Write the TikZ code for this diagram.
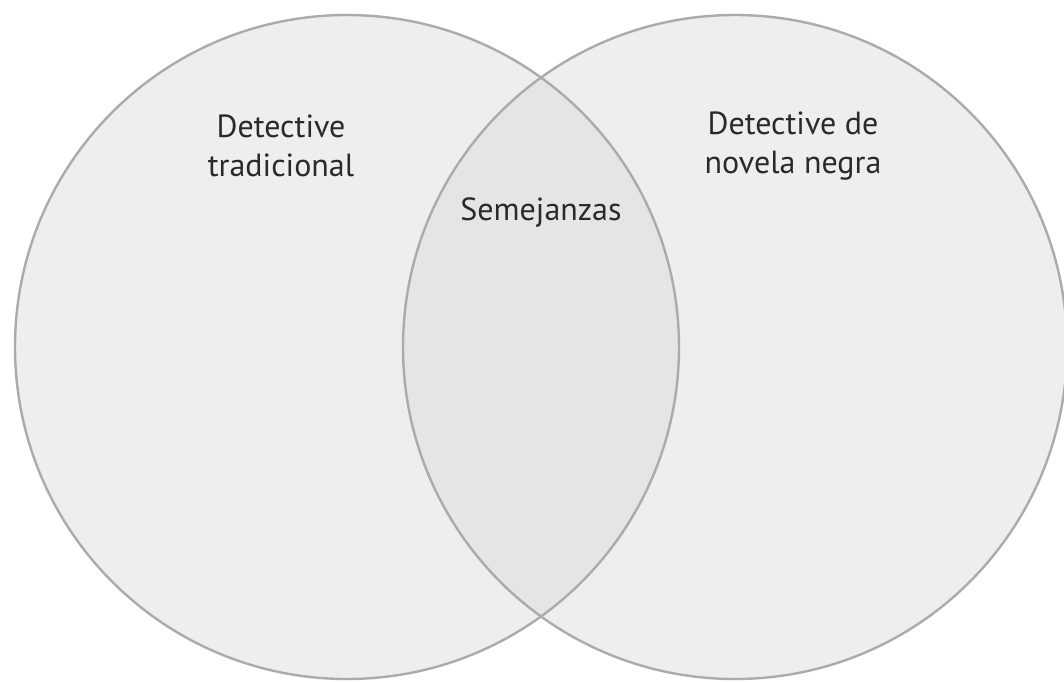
\documentclass[tikz,border=0pt]{standalone}
\usepackage{fontspec}
\setmainfont{PT Sans}
\definecolor{ring}{HTML}{ABABAB}
\definecolor{setfill}{HTML}{EEEEEE}
\definecolor{lensfill}{HTML}{E5E5E5}
\definecolor{txt}{HTML}{2A2A2A}
\begin{document}
\begin{tikzpicture}[x=1pt,y=-1pt,
  setc/.style={circle,minimum size=664pt,inner sep=0pt,fill=setfill},
  ringc/.style={circle,minimum size=664pt,inner sep=0pt,draw=ring,line width=2.4pt},
  lbl/.style={text=txt,font=\fontsize{32}{39}\selectfont,align=center}]
\useasboundingbox (0,0) rectangle (1064,681);
\node[setc] (L) at (347,347) {};
\node[setc] (R) at (735,347) {};
\begin{scope}
  \clip (347,347) circle[radius=332pt];
  \fill[lensfill] (735,347) circle[radius=332pt];
\end{scope}
\node[ringc] (Lr) at (347,347) {};
\node[ringc] (Rr) at (735,347) {};
\node[lbl] (t1) at (281,146) {Detective\\tradicional};
\node[lbl] (t2) at (793,146) {Detective de\\novela negra};
\node[lbl] (t3) at (541,212) {Semejanzas};
\end{tikzpicture}
\end{document}
